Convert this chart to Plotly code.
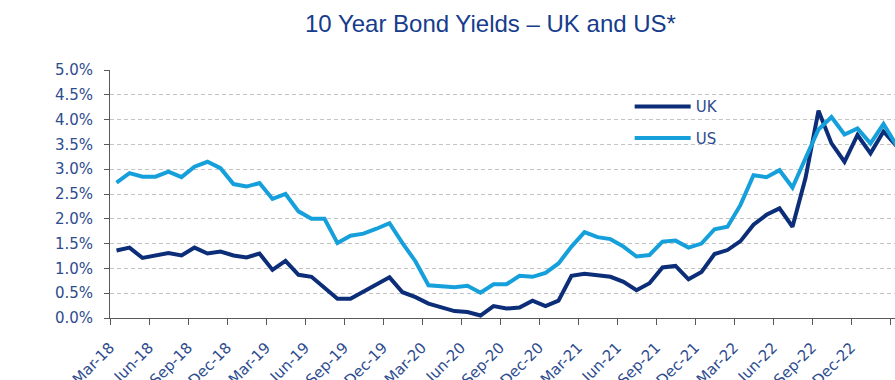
import pandas as pd
import plotly.graph_objects as go

months = [p.strftime("%b-%y") for p in pd.period_range("2018-03", "2023-03", freq="M")]

uk = [1.36, 1.42, 1.21, 1.26, 1.31, 1.26, 1.42, 1.30, 1.34, 1.26, 1.22, 1.30,
      0.97, 1.15, 0.87, 0.83, 0.60, 0.39, 0.39, 0.54, 0.69, 0.82, 0.52, 0.42,
      0.29, 0.21, 0.14, 0.12, 0.05, 0.24, 0.19, 0.21, 0.35, 0.24, 0.35, 0.85,
      0.89, 0.86, 0.83, 0.73, 0.56, 0.70, 1.02, 1.05, 0.78, 0.93, 1.29, 1.37,
      1.55, 1.88, 2.08, 2.21, 1.84, 2.82, 4.18, 3.52, 3.15, 3.69, 3.32, 3.76,
      3.47]

us = [2.73, 2.92, 2.85, 2.85, 2.95, 2.84, 3.05, 3.15, 3.02, 2.70, 2.65, 2.72,
      2.40, 2.50, 2.15, 2.00, 2.00, 1.51, 1.66, 1.70, 1.80, 1.91, 1.51, 1.14,
      0.66, 0.65, 0.62, 0.65, 0.51, 0.68, 0.68, 0.85, 0.83, 0.91, 1.10, 1.44,
      1.73, 1.63, 1.59, 1.44, 1.24, 1.27, 1.54, 1.56, 1.42, 1.50, 1.79, 1.84,
      2.28, 2.88, 2.84, 2.98, 2.63, 3.22, 3.80, 4.05, 3.70, 3.82, 3.52, 3.91,
      3.48]

tick_labels = ["Mar-18", "Jun-18", "Sep-18", "Dec-18", "Mar-19", "Jun-19", "Sep-19",
               "Dec-19", "Mar-20", "Jun-20", "Sep-20", "Dec-20", "Mar-21", "Jun-21",
               "Sep-21", "Dec-21", "Mar-22", "Jun-22", "Sep-22", "Dec-22", "Mar-23"]

x_idx = list(range(len(months)))
tick_vals = [months.index(t) - 0.5 for t in tick_labels]

UK_COLOR = "#0C2D77"
US_COLOR = "#16A0DB"
TEXT_COLOR = "#2E4C8E"
AXIS_COLOR = "#595959"

fig = go.Figure()
fig.add_trace(go.Scatter(x=x_idx, y=uk, mode="lines", name="UK", legendgroup="uk",
                         line=dict(color=UK_COLOR, width=4), text=months,
                         hovertemplate="%{text}: %{y:.2f}%<extra>UK</extra>"))
fig.add_trace(go.Scatter(x=x_idx, y=us, mode="lines", name="US", legendgroup="us",
                         line=dict(color=US_COLOR, width=4), text=months,
                         hovertemplate="%{text}: %{y:.2f}%<extra>US</extra>"))

fig.update_layout(
    width=895, height=380,
    margin=dict(l=110, r=0, t=70, b=62, autoexpand=False),
    paper_bgcolor="white", plot_bgcolor="white",
    font=dict(family="DejaVu Sans", size=15, color=TEXT_COLOR),
    title=dict(text="10 Year Bond Yields \u2013 UK and US*",
               font=dict(family="Liberation Sans", size=24, color="#163C8C"),
               xref="container", x=0.548, xanchor="center",
               yref="container", y=1 - 24 / 380, yanchor="middle"),
    showlegend=True,
    legend=dict(x=0.662, y=0.918, xanchor="left", yanchor="top",
                bgcolor="rgba(0,0,0,0)", tracegroupgap=9, itemwidth=56,
                font=dict(family="DejaVu Sans", size=15, color=TEXT_COLOR)),
    xaxis=dict(range=[-0.5, -0.5 + 785 / 13], tickmode="array", tickvals=tick_vals,
               ticktext=tick_labels, tickangle=-45, showgrid=False, zeroline=False,
               showline=True, linecolor=AXIS_COLOR, linewidth=1,
               ticks="outside", ticklen=6, tickcolor=AXIS_COLOR, ticklabelstandoff=8,
               tickfont=dict(family="DejaVu Sans", size=15, color=TEXT_COLOR)),
    yaxis=dict(range=[0, 5], dtick=0.5, tick0=0, tickformat=".1f", ticksuffix="%",
               showgrid=True, gridcolor="#C4C4C4", griddash="4px,3px", gridwidth=1,
               zeroline=False, showline=True, linecolor=AXIS_COLOR, linewidth=1,
               ticks="outside", ticklen=5, tickcolor=AXIS_COLOR, ticklabelstandoff=8,
               tickfont=dict(family="DejaVu Sans", size=15, color=TEXT_COLOR)),
)

fig.write_html("out.html")
